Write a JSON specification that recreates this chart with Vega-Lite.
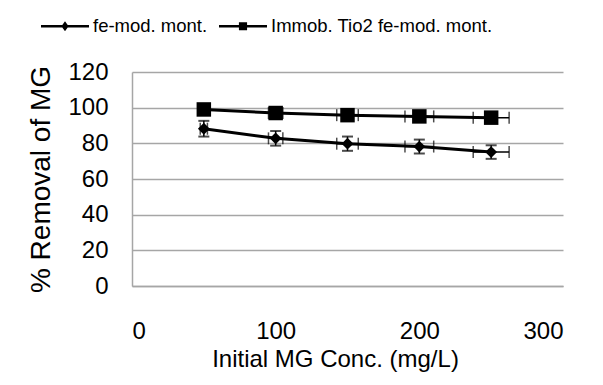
{
  "$schema": "https://vega.github.io/schema/vega-lite/v6.json",
  "autosize": "none",
  "width": 431,
  "height": 214,
  "padding": {"left": 132, "top": 72, "right": 40, "bottom": 99},
  "background": "white",
  "config": {
    "font": "Liberation Sans",
    "view": {"stroke": null},
    "axis": {"gridColor": "#a6a6a6", "gridWidth": 1.5, "domainColor": "#a6a6a6", "domainWidth": 1.5, "ticks": false, "labelColor": "black", "titleColor": "black", "labelFont": "Liberation Sans", "titleFont": "Liberation Sans", "titleFontWeight": "normal", "labelOverlap": false}
  },
  "data": {
    "values": [
      {"series": "fe-mod. mont.", "conc": 50, "removal": 88.2, "ylo": 83.8, "yhi": 92.6, "xlo": 47.5, "xhi": 52.5},
      {"series": "fe-mod. mont.", "conc": 100, "removal": 82.8, "ylo": 78.7, "yhi": 86.9, "xlo": 95, "xhi": 105},
      {"series": "fe-mod. mont.", "conc": 150, "removal": 79.8, "ylo": 75.8, "yhi": 83.8, "xlo": 142.5, "xhi": 157.5},
      {"series": "fe-mod. mont.", "conc": 200, "removal": 78.2, "ylo": 74.3, "yhi": 82.1, "xlo": 190, "xhi": 210},
      {"series": "fe-mod. mont.", "conc": 250, "removal": 75.1, "ylo": 71.3, "yhi": 78.9, "xlo": 237.5, "xhi": 262.5},
      {"series": "Immob. Tio2 fe-mod. mont.", "conc": 50, "removal": 99.0, "ylo": 96.5, "yhi": 101.5, "xlo": 47.5, "xhi": 52.5},
      {"series": "Immob. Tio2 fe-mod. mont.", "conc": 100, "removal": 97.0, "ylo": 94.6, "yhi": 99.4, "xlo": 95, "xhi": 105},
      {"series": "Immob. Tio2 fe-mod. mont.", "conc": 150, "removal": 95.8, "ylo": 93.4, "yhi": 98.2, "xlo": 142.5, "xhi": 157.5},
      {"series": "Immob. Tio2 fe-mod. mont.", "conc": 200, "removal": 95.1, "ylo": 92.7, "yhi": 97.5, "xlo": 190, "xhi": 210},
      {"series": "Immob. Tio2 fe-mod. mont.", "conc": 250, "removal": 94.4, "ylo": 92.0, "yhi": 96.8, "xlo": 237.5, "xhi": 262.5}
    ]
  },
  "resolve": {"scale": {"shape": "independent"}},
  "encoding": {
    "x": {"type": "quantitative", "scale": {"domain": [0, 300]},
      "axis": {"values": [0, 100, 200, 300], "grid": false, "labelFontSize": 24, "labelPadding": 33, "title": "Initial MG Conc. (mg/L)", "titleFontSize": 24, "titlePadding": 4, "titleX": 203}},
    "y": {"type": "quantitative", "scale": {"domain": [0, 120]},
      "axis": {"values": [0, 20, 40, 60, 80, 100, 120], "labelFontSize": 24, "labelPadding": 24, "title": "% Removal of MG", "titleFontSize": 28, "titlePadding": 12}}
  },
  "layer": [
    {
      "mark": {"type": "line", "color": "black", "strokeWidth": 3},
      "encoding": {
        "x": {"field": "conc"},
        "y": {"field": "removal"},
        "detail": {"field": "series"}
      }
    },
    {
      "mark": {"type": "rule", "color": "black", "strokeWidth": 1.5},
      "encoding": {
        "x": {"field": "conc"},
        "y": {"field": "ylo"},
        "y2": {"field": "yhi"}
      }
    },
    {
      "mark": {"type": "tick", "color": "black", "orient": "horizontal", "size": 11, "thickness": 2},
      "encoding": {
        "x": {"field": "conc"},
        "y": {"field": "ylo"}
      }
    },
    {
      "mark": {"type": "tick", "color": "black", "orient": "horizontal", "size": 11, "thickness": 2},
      "encoding": {
        "x": {"field": "conc"},
        "y": {"field": "yhi"}
      }
    },
    {
      "mark": {"type": "rule", "color": "black", "strokeWidth": 1.5},
      "encoding": {
        "x": {"field": "xlo"},
        "x2": {"field": "xhi"},
        "y": {"field": "removal"}
      }
    },
    {
      "mark": {"type": "tick", "color": "black", "orient": "vertical", "size": 12, "thickness": 1.5},
      "encoding": {
        "x": {"field": "xlo"},
        "y": {"field": "removal"}
      }
    },
    {
      "mark": {"type": "tick", "color": "black", "orient": "vertical", "size": 12, "thickness": 1.5},
      "encoding": {
        "x": {"field": "xhi"},
        "y": {"field": "removal"}
      }
    },
    {
      "mark": {"type": "point", "filled": true, "color": "black", "opacity": 1},
      "encoding": {
        "x": {"field": "conc"},
        "y": {"field": "removal"},
        "shape": {"field": "series", "type": "nominal",
          "scale": {"domain": ["fe-mod. mont.", "Immob. Tio2 fe-mod. mont."], "range": ["diamond", "square"]}, "legend": null},
        "size": {"field": "series", "type": "nominal", "scale": {"domain": ["fe-mod. mont.", "Immob. Tio2 fe-mod. mont."], "range": [140, 210]}, "legend": null}
      }
    },
    {
      "mark": {"type": "point", "filled": true, "color": "black", "opacity": 0, "size": 2304},
      "encoding": {
        "x": {"field": "conc"},
        "y": {"field": "removal"},
        "shape": {"field": "series", "type": "nominal",
          "scale": {"domain": ["fe-mod. mont.", "Immob. Tio2 fe-mod. mont."],
            "range": ["M-1,-0.055L1,-0.055L1,0.055L-1,0.055ZM0,-0.21L0.15,0L0,0.21L-0.15,0Z", "M-1,-0.055L1,-0.055L1,0.055L-1,0.055ZM-0.17,-0.17L0.17,-0.17L0.17,0.17L-0.17,0.17Z"]},
          "legend": {"title": null, "orient": "none", "direction": "horizontal", "legendX": -91, "legendY": -70,
            "padding": 0, "symbolSize": 2304, "symbolFillColor": "black", "symbolOpacity": 1, "symbolStrokeWidth": 0,
            "labelFontSize": 18.5, "labelColor": "black", "labelOffset": 4, "columnPadding": 11, "labelLimit": 300,
            "encode": {"symbols": {"update": {"fill": {"value": "black"}, "opacity": {"value": 1}}}}}}
      }
    }
  ]
}
